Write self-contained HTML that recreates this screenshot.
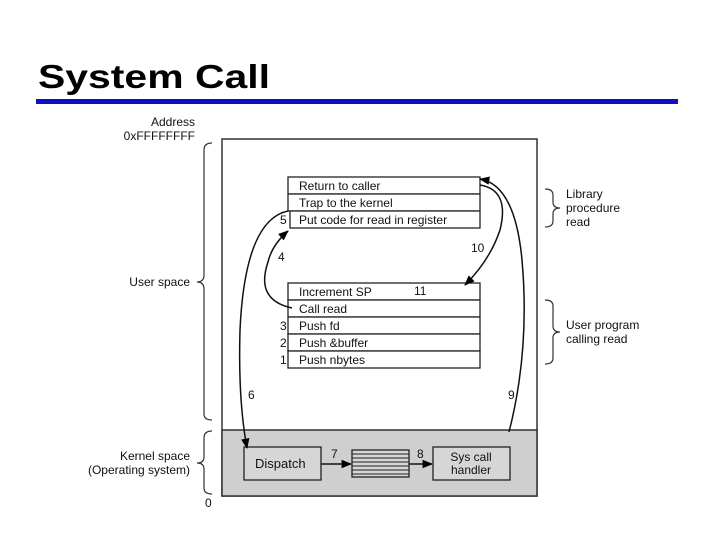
<!DOCTYPE html>
<html><head><style>body{margin:0;background:#fff}svg{display:block}</style></head><body>
<svg width="720" height="540" xmlns="http://www.w3.org/2000/svg" font-family="Liberation Sans, sans-serif">
<defs><marker id="a" viewBox="0 0 10 10" refX="9" refY="5" markerWidth="7" markerHeight="7" orient="auto"><path d="M0,1 L10,5 L0,9 z" fill="#000"/></marker></defs>
<text x="38" y="88" font-size="33" font-weight="bold" textLength="232" lengthAdjust="spacingAndGlyphs">System Call</text>
<rect x="36" y="99" width="642" height="5" fill="#1010c0"/>
<g font-size="12" fill="#111">
<text x="195" y="126" text-anchor="end">Address</text>
<text x="195" y="140" text-anchor="end">0xFFFFFFFF</text>
<text x="190" y="286" text-anchor="end">User space</text>
<text x="190" y="460" text-anchor="end">Kernel space</text>
<text x="190" y="474" text-anchor="end">(Operating system)</text>
<text x="205" y="507">0</text>
<text x="566" y="198">Library</text>
<text x="566" y="212">procedure</text>
<text x="566" y="226">read</text>
<text x="566" y="329">User program</text>
<text x="566" y="343">calling read</text>
</g>
<g fill="none" stroke="#333" stroke-width="1.2">
<path d="M212,143 Q204,143 204,150 L204,275 Q204,282 197,282 Q204,282 204,289 L204,414 Q204,420 212,420"/>
<path d="M212,431 Q204,431 204,438 L204,457 Q204,463 197,463 Q204,463 204,469 L204,488 Q204,494 212,494"/>
<path d="M545,189 Q553,189 553,195 L553,202 Q553,208 560,208 Q553,208 553,214 L553,221 Q553,227 545,227"/>
<path d="M545,300 Q553,300 553,306 L553,326 Q553,332 560,332 Q553,332 553,338 L553,358 Q553,364 545,364"/>
</g>
<rect x="222" y="139" width="315" height="357" fill="#fff" stroke="#333" stroke-width="1.5"/>
<rect x="222" y="430" width="315" height="66" fill="#cfcfcf" stroke="#333" stroke-width="1.5"/>
<g stroke="#222" stroke-width="1.3" fill="#fff">
<rect x="288" y="177" width="192" height="17"/>
<rect x="288" y="194" width="192" height="17"/>
<rect x="290" y="211" width="190" height="17"/>
<rect x="288" y="283" width="192" height="17"/>
<rect x="288" y="300" width="192" height="17"/>
<rect x="288" y="317" width="192" height="17"/>
<rect x="288" y="334" width="192" height="17"/>
<rect x="288" y="351" width="192" height="17"/>
<rect x="244" y="447" width="77" height="33" fill="#d6d6d6"/>
<rect x="433" y="447" width="77" height="33" fill="#d6d6d6"/>
<rect x="352" y="450" width="57" height="27" fill="#d6d6d6"/>
</g>
<g stroke="#222" stroke-width="1">
<line x1="352" y1="454" x2="409" y2="454"/><line x1="352" y1="458" x2="409" y2="458"/><line x1="352" y1="462" x2="409" y2="462"/><line x1="352" y1="466" x2="409" y2="466"/><line x1="352" y1="470" x2="409" y2="470"/><line x1="352" y1="474" x2="409" y2="474"/>
</g>
<g font-size="12" fill="#111">
<text x="299" y="190">Return to caller</text>
<text x="299" y="207">Trap to the kernel</text>
<text x="299" y="224">Put code for read in register</text>
<text x="280" y="224">5</text>
<text x="299" y="296">Increment SP</text>
<text x="414" y="295">11</text>
<text x="299" y="313">Call read</text>
<text x="299" y="330">Push fd</text>
<text x="280" y="330">3</text>
<text x="299" y="347">Push &amp;buffer</text>
<text x="280" y="347">2</text>
<text x="299" y="364">Push nbytes</text>
<text x="280" y="364">1</text>
<text x="278" y="261">4</text>
<text x="471" y="252">10</text>
<text x="248" y="399">6</text>
<text x="508" y="399">9</text>
<text x="331" y="458">7</text>
<text x="417" y="458">8</text>
<text x="255" y="468" font-size="13">Dispatch</text>
<text x="471" y="461" text-anchor="middle">Sys call</text>
<text x="471" y="474" text-anchor="middle">handler</text>
</g>
<g fill="none" stroke="#111" stroke-width="1.5">
<path d="M292,308 Q255,300 268,262 Q272,245 288,231" marker-end="url(#a)"/>
<path d="M288,211 Q245,220 240,330 Q238,400 247,448" marker-end="url(#a)"/>
<path d="M480,185 Q510,190 500,230 Q490,260 465,285" marker-end="url(#a)"/>
<path d="M509,432 Q530,350 522,260 Q515,185 480,179" marker-end="url(#a)"/>
<path d="M321,464 L351,464" marker-end="url(#a)"/>
<path d="M409,464 L432,464" marker-end="url(#a)"/>
</g>
</svg>
</body></html>
